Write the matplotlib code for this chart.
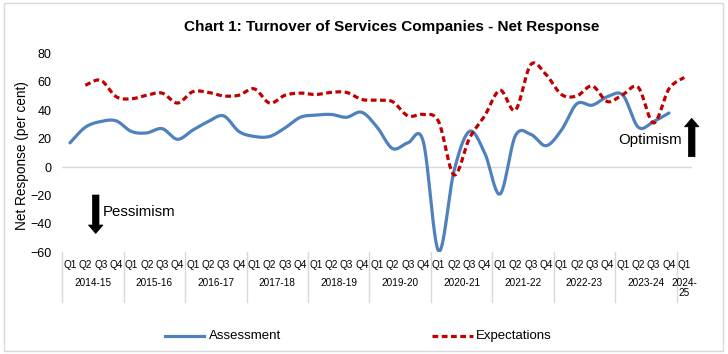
import numpy as np
import matplotlib
matplotlib.use("Agg")
import matplotlib.pyplot as plt
from matplotlib.patches import Polygon, Rectangle
from matplotlib.lines import Line2D
from matplotlib.transforms import blended_transform_factory

plt.rcParams['font.family'] = ['Liberation Sans', 'DejaVu Sans']

# ---------------- data ----------------
years = ["2014-15", "2015-16", "2016-17", "2017-18", "2018-19", "2019-20",
         "2020-21", "2021-22", "2022-23", "2023-24", "2024-\n25"]
quarters = ["Q1", "Q2", "Q3", "Q4"]
n_quarters = 41  # 2014-15 Q1 ... 2024-25 Q1

# Assessment: 2014-15 Q1 .. 2023-24 Q4
assessment = [17, 28, 32, 32.5, 25, 24, 27, 19.5, 26, 32,
              36, 25, 21.5, 21.5, 27.5, 35, 36.5, 37, 35, 38.5,
              28, 13, 17, 18, -59, -3, 25, 10, -19, 22,
              23, 15, 26, 44.5, 43.5, 49.5, 50.5, 28, 32, 38]
# Expectations: 2014-15 Q2 .. 2024-25 Q1
expectations = [57.5, 61, 49.5, 48, 50.5, 52, 45, 53, 52.5,
                50, 50.5, 55, 45, 50.5, 52, 51, 52.5, 52.5, 47.5,
                47, 46, 36, 37, 32, -5.5, 20, 36, 54, 40,
                72, 65, 51, 50, 57, 46, 51, 56, 31, 55, 63]
exp_start = 1

W, H = 728, 354


def smooth(xs, ys, n=24):
    pts = np.column_stack([np.asarray(xs, float), np.asarray(ys, float)])
    out = []
    t = np.linspace(0, 1, n)[:, None]
    for i in range(len(pts) - 1):
        p0 = pts[i - 1] if i > 0 else pts[i]
        p1, p2 = pts[i], pts[i + 1]
        p3 = pts[i + 2] if i + 2 < len(pts) else pts[i + 1]
        c1 = p1 + (p2 - p0) / 6.0
        c2 = p2 - (p3 - p1) / 6.0
        seg = ((1 - t) ** 3) * p1 + 3 * ((1 - t) ** 2) * t * c1 + 3 * (1 - t) * t ** 2 * c2 + t ** 3 * p2
        out.append(seg if i == 0 else seg[1:])
    return np.vstack(out)


def fx(px):
    return px / W


def fy(py):
    return 1 - py / H


fig = plt.figure(figsize=(W / 100, H / 100), dpi=100)
fig.patches.append(Rectangle((fx(4), fy(351)), fx(723) - fx(4), fy(3) - fy(351),
                             transform=fig.transFigure, fill=False,
                             edgecolor='#D9D9D9', linewidth=1))

left, right, top, bottom = 62.3, 692.0, 53.3, 252.3
ax = fig.add_axes([fx(left), fy(bottom), fx(right) - fx(left), (bottom - top) / H])
ax.set_xlim(-0.5, n_quarters - 0.5)
ax.set_ylim(-60, 80)
for s in ax.spines.values():
    s.set_visible(False)
ax.set_xticks([])
ax.set_yticks(np.arange(-60, 81, 20))
ax.tick_params(axis='y', length=0, pad=7.6, labelsize=9)
ax.axhline(0, color='#D9D9D9', linewidth=1, zorder=1)

blue = '#4F81BD'
red = '#C00000'

xa = np.arange(len(assessment))
sa = smooth(xa, assessment)
ax.plot(sa[:, 0], sa[:, 1], color=blue, linewidth=2.3, solid_capstyle='round', zorder=3)

xe = np.arange(len(expectations)) + exp_start
se = smooth(xe, expectations)
ax.plot(se[:, 0], se[:, 1], color=red, linewidth=2.3, linestyle=(0, (1.8, 1.1)),
        dash_capstyle='butt', zorder=4)

# category axis (multi-level)
trans = blended_transform_factory(ax.transData, ax.transAxes)
axh = bottom - top
def ay(py):
    return (bottom - py) / axh

for k in range(len(years)):
    b = -0.5 + 4 * k
    if b < n_quarters - 0.5:
        ax.plot([b, b], [0, ay(302)], transform=trans, color='#D9D9D9',
                linewidth=1, clip_on=False)
for i in range(n_quarters):
    ax.text(i, ay(265), quarters[i % 4], transform=trans, ha='center', va='center',
            fontsize=7.2)
for k, yl in enumerate(years):
    cx = 4 * k + 1.5 if k < len(years) - 1 else n_quarters - 1
    if "\n" in yl:
        ax.text(cx, ay(278), yl, transform=trans, ha='center', va='top',
                fontsize=7.2, linespacing=1.05)
    else:
        ax.text(cx, ay(283.3), yl, transform=trans, ha='center', va='center', fontsize=7.2)

# title and axis label
fig.text(fx(392), fy(27), "Chart 1: Turnover of Services Companies - Net Response",
         ha='center', va='center', fontsize=11, fontweight='bold')
fig.text(fx(21.7), fy(155.7), "Net Response (per cent)", rotation=90,
         ha='center', va='center', fontsize=9.8)

# arrows
def arrow(xc, y_tail, y_tip, shaft=3.3, head=7.3, hl=8.5):
    d = 1 if y_tip > y_tail else -1
    yb = y_tip - d * hl
    pts = [(xc - shaft, y_tail), (xc + shaft, y_tail), (xc + shaft, yb), (xc + head, yb),
           (xc, y_tip), (xc - head, yb), (xc - shaft, yb)]
    fig.patches.append(Polygon([(fx(a), fy(b)) for a, b in pts], closed=True,
                               transform=fig.transFigure, facecolor='black',
                               edgecolor='black', linewidth=0.5))

arrow(95.7, 195, 233.5)
arrow(691.7, 156.7, 118.3)
fig.text(fx(103), fy(212), "Pessimism", ha='left', va='center', fontsize=10.8)
fig.text(fx(650), fy(140), "Optimism", ha='center', va='center', fontsize=10.8)

# legend
fig.lines.append(Line2D([fx(165), fx(204)], [fy(336), fy(336)], transform=fig.transFigure,
                        color=blue, linewidth=2.3))
fig.text(fx(209), fy(336), "Assessment", ha='left', va='center', fontsize=9.5)
fig.lines.append(Line2D([fx(432), fx(473)], [fy(336), fy(336)], transform=fig.transFigure,
                        color=red, linewidth=2.3, linestyle=(0, (1.8, 1.1)),
                        dash_capstyle='butt'))
fig.text(fx(476), fy(336), "Expectations", ha='left', va='center', fontsize=9.5)

fig.savefig("out.png", dpi=100)
